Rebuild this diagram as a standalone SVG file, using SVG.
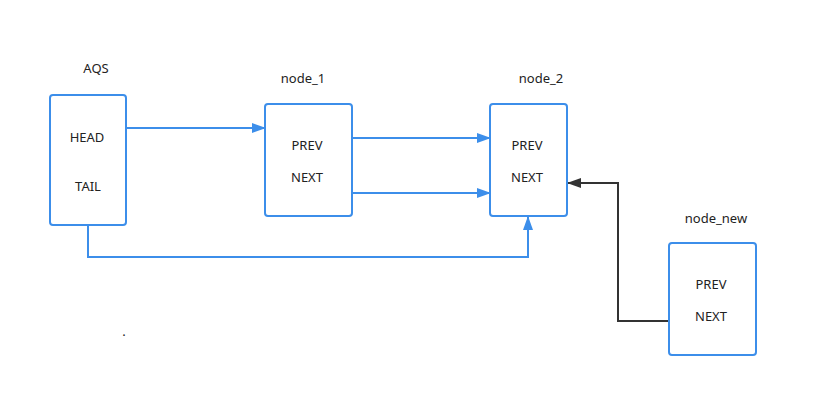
<svg xmlns="http://www.w3.org/2000/svg" width="824" height="418" viewBox="0 0 824 418">
<style>
.box{fill:#fff;stroke:#3c8eea;stroke-width:2}
.t{font-family:"Noto Sans","Open Sans","Liberation Sans",sans-serif;font-size:13px;fill:#222;text-anchor:middle}
.c{fill:none;stroke:#3c8eea;stroke-width:2}
.k{fill:none;stroke:#333;stroke-width:2}
</style>
<defs>
<marker id="ab" markerWidth="14" markerHeight="10" refX="13" refY="5" orient="auto" markerUnits="userSpaceOnUse"><path d="M0,0 L14,5 L0,10 Z" fill="#3c8eea"/></marker>
<marker id="ak" markerWidth="14" markerHeight="10" refX="13" refY="5" orient="auto" markerUnits="userSpaceOnUse"><path d="M0,0 L14,5 L0,10 Z" fill="#333"/></marker>
</defs>
<rect width="824" height="418" fill="#fff"/>
<g id="connectors">
<path class="c" d="M126,128 H265" marker-end="url(#ab)"/>
<path class="c" d="M352,138 H490" marker-end="url(#ab)"/>
<path class="c" d="M352,193 H490" marker-end="url(#ab)"/>
<path class="c" d="M88,225 V257 H528 V217" marker-end="url(#ab)"/>
<path class="k" d="M669,321 H618 V183 H568" marker-end="url(#ak)"/>
</g>
<g id="AQS">
<text class="t" x="96" y="73">AQS</text>
<rect class="box" x="50" y="95" width="76" height="130" rx="3"/>
<text class="t" x="87" y="142">HEAD</text>
<text class="t" x="88" y="191">TAIL</text>
</g>
<g id="node_1">
<text class="t" x="303" y="83">node_1</text>
<rect class="box" x="265" y="104" width="87" height="112" rx="3"/>
<text class="t" x="307" y="150">PREV</text>
<text class="t" x="307" y="182">NEXT</text>
</g>
<g id="node_2">
<text class="t" x="541" y="83">node_2</text>
<rect class="box" x="490" y="104" width="77" height="112" rx="3"/>
<text class="t" x="527" y="150">PREV</text>
<text class="t" x="527" y="182">NEXT</text>
</g>
<g id="node_new">
<text class="t" x="716" y="223">node_new</text>
<rect class="box" x="669" y="243" width="87" height="112" rx="3"/>
<text class="t" x="711" y="289">PREV</text>
<text class="t" x="711" y="321">NEXT</text>
</g>
<text class="t" x="124" y="336">.</text>
</svg>
